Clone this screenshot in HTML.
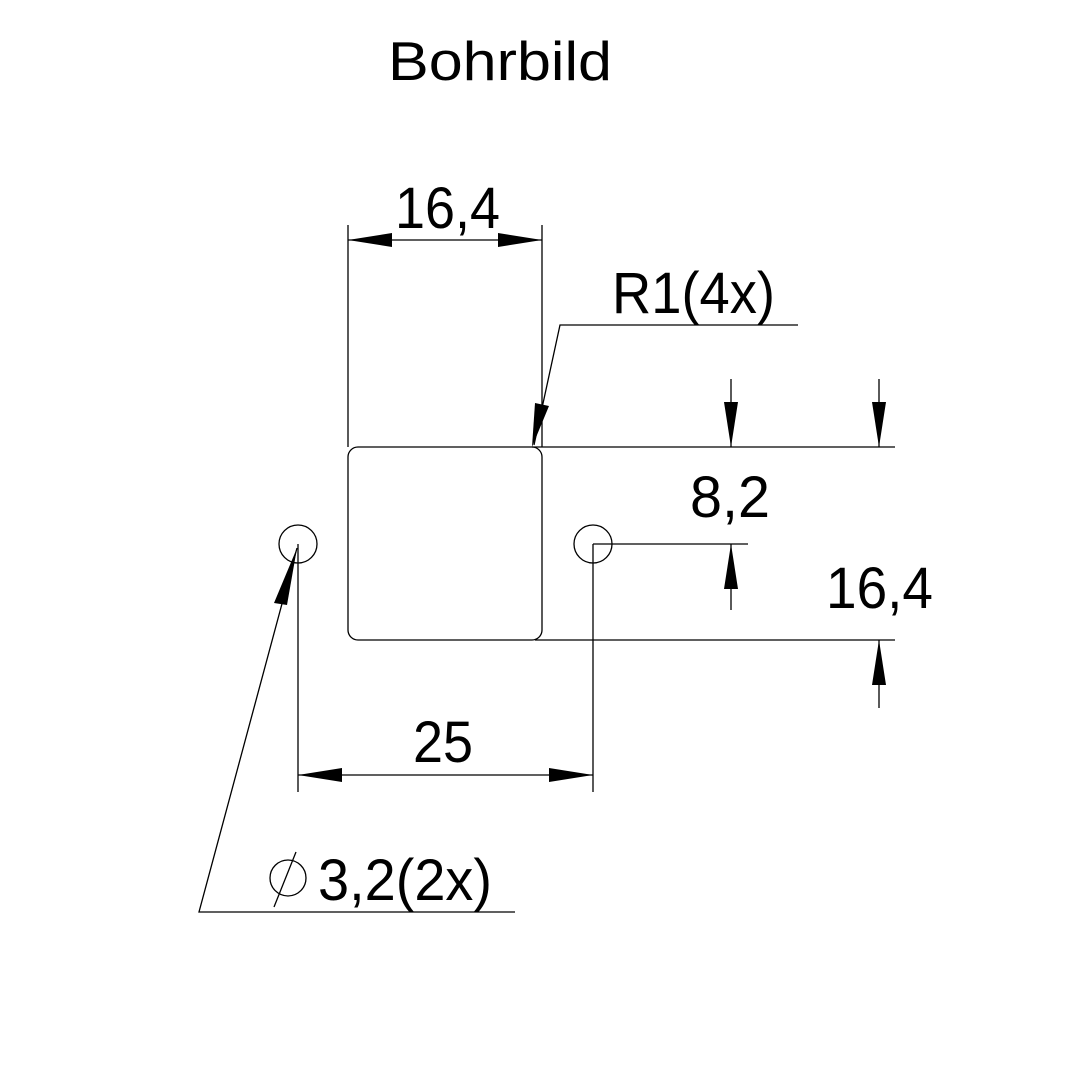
<!DOCTYPE html>
<html><head><meta charset="utf-8"><style>
html,body{margin:0;padding:0;background:#fff;}
svg{display:block;}
text{font-family:"Liberation Sans",sans-serif;fill:#000;}
</style></head><body>
<svg width="1082" height="1083" viewBox="0 0 1082 1083" xmlns="http://www.w3.org/2000/svg">
<rect width="1082" height="1083" fill="#fff"/>
<g stroke="#000" stroke-width="1.3" fill="none">
<!-- main rounded rect -->
<rect x="348" y="447" width="194" height="193" rx="10" ry="10"/>
<!-- holes -->
<circle cx="298" cy="544" r="19"/>
<circle cx="593" cy="544" r="19"/>
<!-- top dimension -->
<line x1="348" y1="225" x2="348" y2="447"/>
<line x1="542" y1="225" x2="542" y2="447"/>
<line x1="348" y1="240" x2="542" y2="240"/>
<!-- R1 leader -->
<polyline points="798,325 560,325 534,445"/>
<!-- right extension lines -->
<line x1="532" y1="447" x2="895" y2="447"/>
<line x1="535" y1="640" x2="895" y2="640"/>
<line x1="593" y1="544" x2="748" y2="544"/>
<!-- 8,2 arrows -->
<line x1="731" y1="379" x2="731" y2="447"/>
<line x1="731" y1="544" x2="731" y2="610"/>
<!-- 16,4 right arrows -->
<line x1="879" y1="379" x2="879" y2="447"/>
<line x1="879" y1="640" x2="879" y2="708"/>
<!-- bottom dimension -->
<line x1="298" y1="544" x2="298" y2="792"/>
<line x1="593" y1="544" x2="593" y2="792"/>
<line x1="298" y1="775" x2="593" y2="775"/>
<!-- diameter leader -->
<polyline points="515,912 199,912 297,548"/>
<!-- diameter symbol -->
<circle cx="288" cy="878" r="18"/>
<line x1="296" y1="852" x2="274" y2="907"/>
</g>
<g fill="#000" stroke="none">
<!-- top dim arrows -->
<polygon points="348,240 392,233 392,247"/>
<polygon points="542,240 498,233 498,247"/>
<!-- R1 arrow -->
<polygon points="532,447 535,403 549,406"/>
<!-- 8,2 arrows -->
<polygon points="731,447 724,402 738,402"/>
<polygon points="731,544 724,589 738,589"/>
<!-- 16,4 right arrows -->
<polygon points="879,447 872,402 886,402"/>
<polygon points="879,640 872,685 886,685"/>
<!-- bottom arrows -->
<polygon points="298,775 342,768 342,782"/>
<polygon points="593,775 549,768 549,782"/>
<!-- diameter leader arrow -->
<polygon points="297,548 274,603 287,605"/>
</g>
<text x="388" y="80" font-size="55" textLength="224" lengthAdjust="spacingAndGlyphs">Bohrbild</text>
<text x="395" y="228" font-size="58" textLength="105" lengthAdjust="spacingAndGlyphs">16,4</text>
<text x="612" y="313" font-size="58" textLength="163" lengthAdjust="spacingAndGlyphs">R1(4x)</text>
<text x="690" y="517" font-size="58" textLength="80" lengthAdjust="spacingAndGlyphs">8,2</text>
<text x="826" y="608" font-size="58" textLength="107" lengthAdjust="spacingAndGlyphs">16,4</text>
<text x="413" y="762" font-size="58" textLength="60" lengthAdjust="spacingAndGlyphs">25</text>
<text x="318" y="900" font-size="58" textLength="174" lengthAdjust="spacingAndGlyphs">3,2(2x)</text>
</svg>
</body></html>
